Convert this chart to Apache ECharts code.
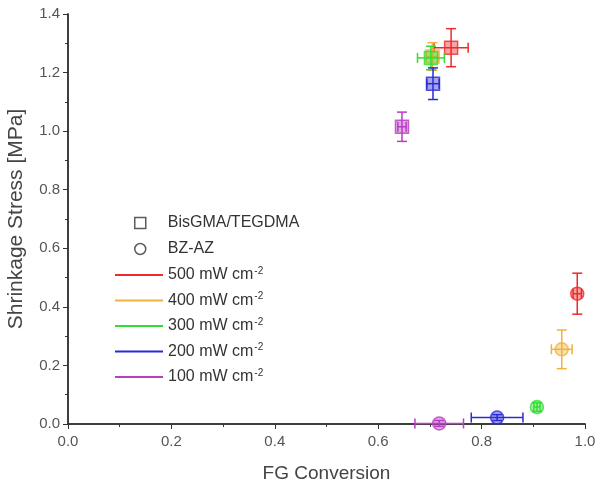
<!DOCTYPE html>
<html>
<head>
<meta charset="utf-8">
<script src="https://cdn.jsdelivr.net/npm/echarts@6/dist/echarts.min.js"></script>
<style>
  html, body { margin: 0; padding: 0; background: #fff; }
  #chart { width: 600px; height: 493px; }
</style>
</head>
<body>
<div id="chart"></div>
<script>
// light intensity levels (mW cm-2), legend order
const levels = ['500', '400', '300', '200', '100'];
const levelColors = ['#ee2a2a', '#f2b13c', '#33dd33', '#2a2ad6', '#b83cc4'];

// BisGMA/TEGDMA (squares)
const bisX = [0.741, 0.705, 0.702, 0.706, 0.646];
const bisY = [1.285, 1.255, 1.250, 1.162, 1.015];
const bisXErr = [0.033, 0.012, 0.026, 0.012, 0.008];
const bisYErr = [0.065, 0.047, 0.040, 0.054, 0.050];

// BZ-AZ (circles)
const bzX = [0.985, 0.955, 0.907, 0.830, 0.718];
const bzY = [0.445, 0.255, 0.058, 0.022, 0.002];
const bzXErr = [0.008, 0.020, 0.006, 0.050, 0.047];
const bzYErr = [0.070, 0.066, 0.015, 0.010, 0.010];

const xTicks = { min: 0, max: 1, interval: 0.2 };
const yTicks = { min: 0, max: 1.4, interval: 0.2 };

const axisColor = '#333';
const labelColor = '#555';
const font = 'Liberation Sans, Arial, sans-serif';

const seriesName = (l) => l + ' mW cm-2';

function errorBars(params, api) {
  const x = api.value(0), y = api.value(1), ex = api.value(2), ey = api.value(3);
  const l = api.coord([x - ex, y]), r = api.coord([x + ex, y]);
  const t = api.coord([x, y + ey]), b = api.coord([x, y - ey]);
  const cap = 5;
  const style = { stroke: api.visual('color'), lineWidth: 1.5 };
  const seg = (x1, y1, x2, y2) => ({ type: 'line', shape: { x1, y1, x2, y2 }, style });
  return {
    type: 'group',
    children: [
      seg(l[0], l[1], r[0], r[1]),
      seg(l[0], l[1] - cap, l[0], l[1] + cap),
      seg(r[0], r[1] - cap, r[0], r[1] + cap),
      seg(t[0], t[1], b[0], b[1]),
      seg(t[0] - cap, t[1], t[0] + cap, t[1]),
      seg(b[0] - cap, b[1], b[0] + cap, b[1])
    ]
  };
}

const series = [];
// dummy series for the marker legend
series.push({ name: 'BisGMA/TEGDMA', type: 'scatter', data: [], symbol: 'rect' });
series.push({ name: 'BZ-AZ', type: 'scatter', data: [], symbol: 'circle' });

levels.forEach((l, i) => {
  const c = levelColors[i];
  series.push({
    name: seriesName(l),
    type: 'scatter',
    z: 2 + i * 2,
    symbolSize: 13,
    itemStyle: { color: c + '88', borderColor: c, borderWidth: 1.5 },
    data: [
      { value: [bisX[i], bisY[i]], symbol: 'rect' },
      { value: [bzX[i], bzY[i]], symbol: 'circle' }
    ]
  });
  series.push({
    name: seriesName(l),
    type: 'custom',
    z: 3 + i * 2,
    itemStyle: { color: c },
    renderItem: errorBars,
    encode: { x: 0, y: 1 },
    data: [
      [bisX[i], bisY[i], bisXErr[i], bisYErr[i]],
      [bzX[i], bzY[i], bzXErr[i], bzYErr[i]]
    ]
  });
});

const option = {
  animation: false,
  textStyle: { fontFamily: font },
  grid: { left: 68, right: 15, top: 14, bottom: 69, outerBoundsMode: 'none' },
  legend: [
    {
      orient: 'vertical',
      left: 129,
      top: 210,
      itemWidth: 11,
      itemHeight: 11,
      itemGap: 10,
      selectedMode: false,
      textStyle: { fontSize: 16, color: '#333', padding: [0, 0, 0, 17] },
      data: [
        { name: 'BisGMA/TEGDMA', icon: 'rect', itemStyle: { color: 'transparent', borderColor: '#333', borderWidth: 1.5 } },
        { name: 'BZ-AZ', icon: 'circle', itemStyle: { color: 'transparent', borderColor: '#333', borderWidth: 1.5 } }
      ]
    },
    {
      orient: 'vertical',
      left: 110,
      top: 261,
      itemWidth: 48,
      itemHeight: 2,
      itemGap: 8.5,
      selectedMode: false,
      textStyle: {
        fontSize: 16, color: '#333',
        rich: { sup: { fontSize: 10, verticalAlign: 'top', padding: [0, 0, 8, 1], color: '#333' } }
      },
      formatter: (n) => n.replace(' cm-2', ' cm{sup|-2}'),
      data: levels.map((l, i) => ({
        name: seriesName(l),
        icon: 'rect',
        itemStyle: { color: levelColors[i], borderWidth: 0, opacity: 1 }
      }))
    }
  ],
  xAxis: [
    {
      type: 'value',
      position: 'bottom',
      min: xTicks.min, max: xTicks.max, interval: xTicks.interval,
      name: 'FG Conversion',
      nameLocation: 'middle',
      nameGap: 40,
      nameTextStyle: { fontSize: 19, color: '#444' },
      axisLine: { lineStyle: { color: axisColor, width: 1.5 } },
      axisTick: { inside: false, length: 5, lineStyle: { color: axisColor } },
      minorTick: { show: true, splitNumber: 2, length: 3, lineStyle: { color: axisColor } },
      axisLabel: { fontSize: 15, color: labelColor, margin: 10, formatter: (v) => v.toFixed(1) },
      splitLine: { show: false }
    },
    {
      type: 'value',
      position: 'top',
      min: xTicks.min, max: xTicks.max, interval: xTicks.interval,
      axisLine: { lineStyle: { color: axisColor, width: 1.5 } },
      axisTick: { inside: true, length: 5, lineStyle: { color: axisColor } },
      minorTick: { show: true, splitNumber: 2, length: 3, lineStyle: { color: axisColor } },
      axisLabel: { show: false },
      splitLine: { show: false }
    }
  ],
  yAxis: [
    {
      type: 'value',
      position: 'left',
      min: yTicks.min, max: yTicks.max, interval: yTicks.interval,
      name: 'Shrinkage Stress [MPa]',
      nameLocation: 'middle',
      nameGap: 41,
      nameTextStyle: { fontSize: 21, color: '#444' },
      axisLine: { show: true, lineStyle: { color: axisColor, width: 1.5 } },
      axisTick: { show: true, inside: false, length: 5, lineStyle: { color: axisColor } },
      minorTick: { show: true, splitNumber: 2, length: 3, lineStyle: { color: axisColor } },
      axisLabel: { fontSize: 15, color: labelColor, margin: 8, formatter: (v) => v.toFixed(1) },
      splitLine: { show: false }
    },
    {
      type: 'value',
      position: 'right',
      min: yTicks.min, max: yTicks.max, interval: yTicks.interval,
      axisLine: { show: true, lineStyle: { color: axisColor, width: 1.5 } },
      axisTick: { show: true, inside: true, length: 5, lineStyle: { color: axisColor } },
      minorTick: { show: true, splitNumber: 2, length: 3, lineStyle: { color: axisColor } },
      axisLabel: { show: false },
      splitLine: { show: false }
    }
  ],
  series: series
};

const myChart = echarts.init(document.getElementById('chart'));
myChart.setOption(option);
</script>
</body>
</html>
